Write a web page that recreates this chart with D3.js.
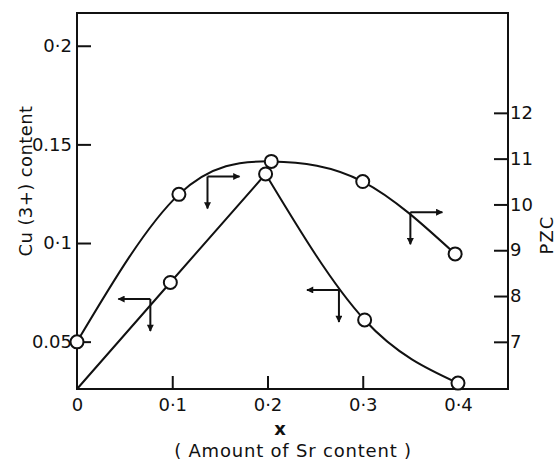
<!DOCTYPE html>
<html>
<head>
<meta charset="utf-8">
<script src="https://cdn.jsdelivr.net/npm/d3@7"></script>
<style>
	body { margin: 0; background: #fff; }
	text { font-family: "DejaVu Sans", sans-serif; fill: #111; }
</style>
</head>
<body>
<svg id="chart" width="556" height="460"></svg>
<script>

// PZC curve (upper, read on right axis)
var pzcX = [0, 0.107, 0.204, 0.3, 0.397];
var pzcY = [7.0, 10.22, 10.94, 10.5, 8.92];

// Cu(3+) content curve (lower, read on left axis)
var cuX = [0, 0.098, 0.198, 0.302, 0.4];
var cuY = [0.026, 0.08, 0.135, 0.061, 0.029];

// axis ticks
var xTicks = [0, 0.1, 0.2, 0.3, 0.4];
var xTickLabels = ["0", "0·1", "0·2", "0·3", "0·4"];
var leftTicks = [0.05, 0.1, 0.15, 0.2];
var leftTickLabels = ["0.05", "0·1", "0.15", "0·2"];
var rightTicks = [7, 8, 9, 10, 11, 12];

// arrows that tell which axis a curve belongs to
var pzcArrows = [{x: 0.137, y: 10.61}, {x: 0.35, y: 9.83}];
var cuArrows = [{x: 0.077, y: 0.0716}, {x: 0.275, y: 0.0762}];

var svg = d3.select("#chart");

var box = {left: 77, right: 508, top: 13, bottom: 389};

var x = d3.scaleLinear().domain([0, 0.4525]).range([box.left, box.right]);
var yCu = d3.scaleLinear().domain([0.026, 0.2166]).range([box.bottom, box.top]);
var yPzc = d3.scaleLinear().domain([5.97, 14.18]).range([box.bottom, box.top]);

var ink = "#111";
var font = "'DejaVu Sans', sans-serif";

// arrowhead
svg.append("defs").append("marker")
	.attr("id", "head")
	.attr("viewBox", "0 0 10 10")
	.attr("refX", 9)
	.attr("refY", 5)
	.attr("markerWidth", 10)
	.attr("markerHeight", 7)
	.attr("markerUnits", "userSpaceOnUse")
	.attr("orient", "auto")
	.append("path")
	.attr("d", "M0 0L10 5L0 10z")
	.attr("fill", ink);

// frame
svg.append("rect")
	.attr("x", box.left)
	.attr("y", box.top)
	.attr("width", box.right - box.left)
	.attr("height", box.bottom - box.top)
	.attr("fill", "none")
	.attr("stroke", ink)
	.attr("stroke-width", 2);

// axes
var xAxis = svg.append("g")
	.attr("transform", "translate(0," + box.bottom + ")")
	.call(d3.axisBottom(x)
		.tickValues(xTicks)
		.tickSize(-13)
		.tickPadding(9)
		.tickFormat(function (d, i) { return xTickLabels[i]; }));

var leftAxis = svg.append("g")
	.attr("transform", "translate(" + box.left + ",0)")
	.call(d3.axisLeft(yCu)
		.tickValues(leftTicks)
		.tickSize(-14)
		.tickPadding(5)
		.tickFormat(function (d, i) { return leftTickLabels[i]; }));

var rightAxis = svg.append("g")
	.attr("transform", "translate(" + box.right + ",0)")
	.call(d3.axisRight(yPzc)
		.tickValues(rightTicks)
		.tickSize(-14)
		.tickPadding(2)
		.tickFormat(d3.format("d")));

[xAxis, leftAxis, rightAxis].forEach(function (g) {
	g.select(".domain").remove();
	g.selectAll("line").attr("stroke", ink).attr("stroke-width", 2);
	g.selectAll("text")
		.style("font-family", font)
		.style("font-size", "18px")
		.attr("fill", ink);
});
xAxis.selectAll(".tick").filter(function (d) { return d == 0; }).select("line").remove();

// curves
var pzcData = pzcX.map(function (d, i) { return [d, pzcY[i]]; });
var cuData = cuX.map(function (d, i) { return [d, cuY[i]]; });

svg.append("path")
	.datum(pzcData)
	.attr("fill", "none")
	.attr("stroke", ink)
	.attr("stroke-width", 2)
	.attr("d", d3.line()
		.x(function (d) { return x(d[0]); })
		.y(function (d) { return yPzc(d[1]); })
		.curve(d3.curveNatural));

// Cu rises straight to the peak, then falls on a smooth curve
svg.append("path")
	.datum(cuData.slice(0, 3))
	.attr("fill", "none")
	.attr("stroke", ink)
	.attr("stroke-width", 2)
	.attr("d", d3.line()
		.x(function (d) { return x(d[0]); })
		.y(function (d) { return yCu(d[1]); }));

svg.append("path")
	.datum(cuData.slice(2))
	.attr("fill", "none")
	.attr("stroke", ink)
	.attr("stroke-width", 2)
	.attr("d", d3.line()
		.x(function (d) { return x(d[0]); })
		.y(function (d) { return yCu(d[1]); })
		.curve(d3.curveNatural));

// circles
svg.selectAll(".pzc-dot")
	.data(pzcData)
	.enter().append("circle")
	.attr("class", "pzc-dot")
	.attr("cx", function (d) { return x(d[0]); })
	.attr("cy", function (d) { return yPzc(d[1]); })
	.attr("r", 6.5)
	.attr("fill", "#fff")
	.attr("stroke", ink)
	.attr("stroke-width", 2);

svg.selectAll(".cu-dot")
	.data(cuData.slice(1))
	.enter().append("circle")
	.attr("class", "cu-dot")
	.attr("cx", function (d) { return x(d[0]); })
	.attr("cy", function (d) { return yCu(d[1]); })
	.attr("r", 6.5)
	.attr("fill", "#fff")
	.attr("stroke", ink)
	.attr("stroke-width", 2);

// arrows
var arrowLen = 32;

function drawArrows(list, yScale, dir) {
	list.forEach(function (a) {
		var px = x(a.x), py = yScale(a.y);
		svg.append("line")
			.attr("x1", px).attr("y1", py)
			.attr("x2", px + dir * arrowLen).attr("y2", py)
			.attr("stroke", ink).attr("stroke-width", 2)
			.attr("marker-end", "url(#head)");
		svg.append("line")
			.attr("x1", px).attr("y1", py)
			.attr("x2", px).attr("y2", py + arrowLen)
			.attr("stroke", ink).attr("stroke-width", 2)
			.attr("marker-end", "url(#head)");
	});
}

drawArrows(pzcArrows, yPzc, 1);
drawArrows(cuArrows, yCu, -1);

// titles
svg.append("text")
	.attr("transform", "translate(32,181) rotate(-90)")
	.attr("text-anchor", "middle")
	.style("font-size", "18px")
	.style("letter-spacing", "0.4px")
	.text("Cu (3+) content");

svg.append("text")
	.attr("transform", "translate(553,235) rotate(-90)")
	.attr("text-anchor", "middle")
	.style("font-size", "18px")
	.style("letter-spacing", "1px")
	.text("PZC");

svg.append("text")
	.attr("x", 280)
	.attr("y", 435)
	.attr("text-anchor", "middle")
	.style("font-size", "18px")
	.style("font-weight", "bold")
	.text("x");

svg.append("text")
	.attr("x", 293)
	.attr("y", 457)
	.attr("text-anchor", "middle")
	.style("font-size", "18px")
	.style("letter-spacing", "0.8px")
	.text("( Amount of Sr content )");

</script>
</body>
</html>
